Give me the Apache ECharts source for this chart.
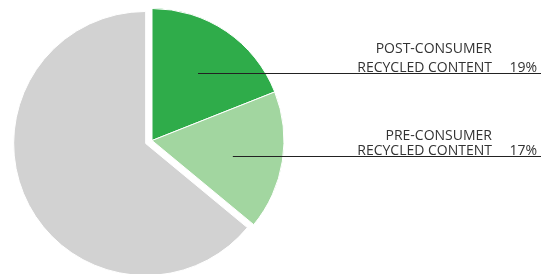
<!DOCTYPE html>
<html>
<head>
<meta charset="utf-8">
<script src="https://cdn.jsdelivr.net/npm/echarts@6/dist/echarts.min.js"></script>
<style>
  html, body { margin: 0; padding: 0; background: #fff; }
  #chart { width: 541px; height: 274px; }
</style>
</head>
<body>
<div id="chart"></div>
<script>
// 饼图数据
const names = ['POST-CONSUMER\nRECYCLED CONTENT', 'PRE-CONSUMER\nRECYCLED CONTENT', 'OTHER'];
const values = [19, 17, 64];
const colors = ['#2fac4a', '#a2d6a0', '#d2d2d2'];
const lineHeights = [19, 15];
const lineDrop = [0, 3];   // 引线微调

const CX = 152, CY = 140.5, R = 132;

const chart = echarts.init(document.getElementById('chart'));

function pieData(withLabel) {
  return names.map((n, i) => ({
    name: n,
    value: values[i],
    selected: i === 2,
    itemStyle: { color: withLabel ? 'rgba(0,0,0,0)' : colors[i] },
    label: { show: withLabel && i < 2, lineHeight: lineHeights[i] || 15 },
    labelLine: { show: withLabel && i < 2 },
  }));
}

const base = {
  type: 'pie',
  center: [CX, CY],
  radius: R,
  startAngle: 90,
  clockwise: true,
  silent: true,
  selectedMode: 'single',
  selectedOffset: 7,
  avoidLabelOverlap: false,
  emphasis: { disabled: true },
};

chart.setOption({
  animation: false,
  series: [
    Object.assign({}, base, {
      z: 2,
      itemStyle: { borderColor: '#fff', borderWidth: 1 },
      select: { itemStyle: { borderColor: '#fff', borderWidth: 1 } },
      data: pieData(false),
    }),
    // 叠加一层透明饼图，只画标签和引线（引线压在扇区上面）
    Object.assign({}, base, {
      z: 10,
      itemStyle: { borderWidth: 0 },
      select: { itemStyle: { borderWidth: 0 } },
      label: {
        position: 'outside',
        fontFamily: 'Open Sans',
        fontSize: 14,
        color: '#333',
        formatter(p) {
          const lines = p.name.split('\n');
          return `{n|${lines[0]}}{v|}\n{n|${lines[1]}}{v|${p.value}%}`;
        },
        rich: {
          n: { fontFamily: 'Open Sans', fontSize: 14, color: '#333' },
          v: { fontFamily: 'Open Sans', fontSize: 14, color: '#333', width: 45, align: 'right' },
        },
      },
      labelLine: { show: true, length: 10, length2: 10, lineStyle: { color: '#222', width: 1 } },
      labelLayout(params) {
        const pts = params.labelLinePoints;
        if (!pts) return {};
        const i = params.dataIndex;
        const p0 = pts[0];
        const sx = CX + (p0[0] - CX) * 0.62;
        const sy = Math.round(CY + (p0[1] - CY) * 0.62) + (lineDrop[i] || 0) + 0.5;
        const lh = lineHeights[i] || 15;
        return {
          x: 537,
          y: sy + 2.5 + (lh - 15) / 2,
          align: 'right',
          verticalAlign: 'bottom',
          labelLinePoints: [[sx, sy], [400, sy], [541, sy]],
        };
      },
      data: pieData(true),
    }),
  ],
});
</script>
</body>
</html>
